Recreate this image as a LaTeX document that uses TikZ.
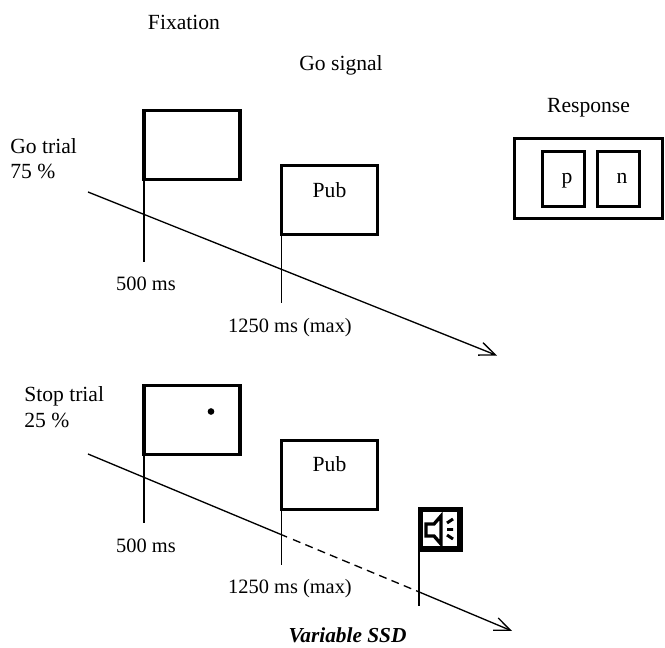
\documentclass[tikz,border=0pt]{standalone}
\usepackage{fontspec}
\setmainfont{Liberation Serif}
\usepackage{tikz}
\usetikzlibrary{positioning,arrows.meta,calc}

\begin{document}
\begin{tikzpicture}[x=0.75pt, y=-0.75pt,
  frame/.style={draw, line width=2.5pt, fill=white, inner sep=0pt, outer sep=0pt, anchor=north west},
  lbl/.style={font=\fontsize{16.2}{19.5}\selectfont, inner sep=0pt, anchor=base},
  trial/.style={font=\fontsize{16.2}{19.5}\selectfont, align=left, inner sep=0pt, anchor=base west},
  tick/.style={font=\fontsize{15.3}{18}\selectfont, inner sep=0pt, anchor=base},
  axis/.style={line width=1pt},
  arr/.style={axis, -{Straight Barb[length=12pt, width=10pt, line width=1pt]}}]
\useasboundingbox (0,0) rectangle (665,648);
% column headings
\node[lbl] (hfix) at (184,30) {Fixation};
\node[lbl] (hgo) at (341,71) {Go signal};
\node[lbl] (hresp) at (588.5,113) {Response};
% go trial
\node[trial] (gotrial) at (10,154) {Go trial};
\node[trial] (gopct) at (10,179) {75 \%};
\coordinate (gostart) at (88,192);
\coordinate (goend) at (497,355.5);
\draw[arr] (gostart) -- (goend);
\node[frame, minimum width=96*0.75pt, minimum height=69*0.75pt] (gofix) at (144,110.5) {};
\node[frame, minimum width=96*0.75pt, minimum height=69*0.75pt] (gopub) at (281.5,165.5) {};
\node[lbl] (gopubt) at (329.5,198) {Pub};
\coordinate (gofixfoot) at (144,262);
\coordinate (gopubfoot) at (281.5,303);
\draw[axis] (gofix.south west) -- (gofixfoot);
\draw[axis] (gopub.south west) -- (gopubfoot);
\node[tick] (go500) at (146,291) {500 ms};
\node[tick] (go1250) at (290,333) {1250 ms (max)};
% response keys
\node[frame, minimum width=148*0.75pt, minimum height=80*0.75pt] (resp) at (514.5,138.5) {};
\node[frame, minimum width=42*0.75pt, minimum height=55*0.75pt] (keyp) at (542.5,151.5) {};
\node[frame, minimum width=42*0.75pt, minimum height=55*0.75pt] (keyn) at (597.5,151.5) {};
\node[lbl] (keypt) at (567,184) {p};
\node[lbl] (keynt) at (622,184) {n};
% stop trial
\node[trial] (stoptrial) at (24,402) {Stop trial};
\node[trial] (stoppct) at (24,428) {25 \%};
\coordinate (stopstart) at (88,454);
\coordinate (stopa) at (287,537);
\coordinate (stopb) at (293,539.5);
\coordinate (stopc) at (418.5,591.7);
\coordinate (stopend) at (512,631);
\draw[axis] (stopstart) -- (stopa);
\draw[axis, dash pattern=on 6pt off 4pt] (stopb) -- (stopc);
\draw[arr] (stopc) -- (stopend);
\node[frame, minimum width=96*0.75pt, minimum height=69*0.75pt] (stopfix) at (144,385.5) {};
\node[circle, fill=black, inner sep=0pt, minimum size=5pt] (dot) at (211,411.5) {};
\node[frame, minimum width=96*0.75pt, minimum height=69*0.75pt] (stoppub) at (281.5,440.5) {};
\node[lbl] (stoppubt) at (329.5,472) {Pub};
\coordinate (stopfixfoot) at (144,523);
\coordinate (stoppubfoot) at (281.5,565);
\draw[axis] (stopfix.south west) -- (stopfixfoot);
\draw[axis] (stoppub.south west) -- (stoppubfoot);
\node[tick] (stop500) at (146,553) {500 ms};
\node[tick] (stop1250) at (290,594) {1250 ms (max)};
% sound icon
\node[frame, line width=4.1pt, minimum width=39.5*0.75pt, minimum height=39.5*0.75pt] (sound) at (420.5,509.5) {};
\coordinate (soundfoot) at (419,606);
\draw[axis] (soundfoot |- sound.south) -- (soundfoot);
\draw[line width=2.5pt] (426,524) -- (434,524) -- (441,516) -- (441,544) -- (434,536) -- (426,536) -- cycle;
\draw[line width=2.2pt] (447,523) -- (453,519) (447,529.5) -- (453,529.5) (447,535) -- (453,539);
\node[lbl, font=\fontsize{16}{19}\selectfont\bfseries\itshape] (ssd) at (347.5,643) {Variable SSD};
\end{tikzpicture}
\end{document}
